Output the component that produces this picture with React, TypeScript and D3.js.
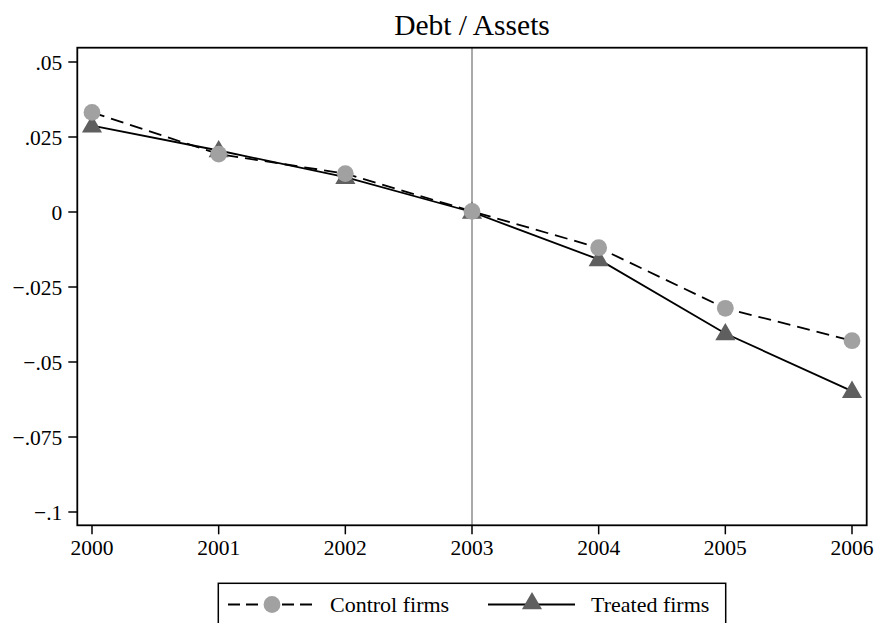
import React from "react";
import * as d3 from "d3";

const years = [2000, 2001, 2002, 2003, 2004, 2005, 2006];
const controlFirms = [0.0332, 0.0193, 0.0128, 0.0002, -0.0119, -0.0321, -0.0429];
const treatedFirms = [0.0288, 0.0205, 0.0116, 0.0, -0.0158, -0.0405, -0.0597];
const yTicks = [0.05, 0.025, 0, -0.025, -0.05, -0.075, -0.1];
const yTickLabels = [".05", ".025", "0", "\u2212.025", "\u2212.05", "\u2212.075", "\u2212.1"];
const eventYear = 2003;
const title = "Debt / Assets";
const seriesNames = ["Control firms", "Treated firms"];

const W = 878;
const H = 623;
const box = { left: 77.3, right: 866.7, top: 47.7, bottom: 525.3 };
const FONT = "'Liberation Serif', 'DejaVu Serif', serif";
const circleColor = "#a1a1a1";
const triColor = "#5f5f5f";

export default function App() {
  const x = d3
    .scaleLinear()
    .domain([2000, 2006])
    .range([92, 852]);
  const y = d3
    .scaleLinear()
    .domain([0, 0.05])
    .range([212, 62]);

  const line = d3
    .line<number>()
    .x((_, i) => x(years[i]))
    .y((d) => y(d));

  const tri = d3.symbol().type(d3.symbolTriangle).size(175)() as string;

  const legendY = 604.5;

  return (
    <svg
      width={W}
      height={H}
      style={{ position: "absolute", left: 0, top: 0, background: "#fff" }}
      fontFamily={FONT}
    >
      <rect x={0} y={0} width={W} height={H} fill="#fff" />
      <text x={472} y={35} fontSize={29.5} textAnchor="middle" fill="#000">
        {title}
      </text>

      {/* event line */}
      <line
        x1={x(eventYear)}
        x2={x(eventYear)}
        y1={box.top}
        y2={box.bottom}
        stroke="#a0a0a0"
        strokeWidth={1.8}
      />

      {/* lines */}
      <path d={line(controlFirms) || ""} fill="none" stroke="#000" strokeWidth={1.8} strokeDasharray="13 7" />
      <path d={line(treatedFirms) || ""} fill="none" stroke="#000" strokeWidth={1.8} />

      {/* markers */}
      {treatedFirms.map((v, i) => (
        <path key={"t" + i} d={tri} transform={`translate(${x(years[i])},${y(v) + 1})`} fill={triColor} />
      ))}
      {controlFirms.map((v, i) => (
        <circle key={"c" + i} cx={x(years[i])} cy={y(v)} r={8.4} fill={circleColor} />
      ))}

      {/* plot box */}
      <rect
        x={box.left}
        y={box.top}
        width={box.right - box.left}
        height={box.bottom - box.top}
        fill="none"
        stroke="#000"
        strokeWidth={1.8}
      />

      {/* y axis */}
      {yTicks.map((t, i) => (
        <g key={"y" + i}>
          <line x1={box.left - 9} x2={box.left} y1={y(t)} y2={y(t)} stroke="#000" strokeWidth={1.5} />
          <text x={box.left - 15} y={y(t)} dy="0.35em" fontSize={21.5} textAnchor="end" fill="#000">
            {yTickLabels[i]}
          </text>
        </g>
      ))}

      {/* x axis */}
      {years.map((yr) => (
        <g key={"x" + yr}>
          <line x1={x(yr)} x2={x(yr)} y1={box.bottom} y2={box.bottom + 9} stroke="#000" strokeWidth={1.5} />
          <text x={x(yr)} y={box.bottom + 30} fontSize={21.5} textAnchor="middle" fill="#000">
            {yr}
          </text>
        </g>
      ))}

      {/* legend */}
      <rect x={218.3} y={583.3} width={507.4} height={50} fill="#fff" stroke="#000" strokeWidth={1.5} />
      <line x1={228} x2={317} y1={legendY} y2={legendY} stroke="#000" strokeWidth={1.8} strokeDasharray="12 6" />
      <circle cx={272} cy={legendY} r={8.4} fill={circleColor} />
      <text x={330} y={legendY} dy="0.35em" fontSize={22} fill="#000">
        {seriesNames[0]}
      </text>
      <line x1={488} x2={575} y1={legendY} y2={legendY} stroke="#000" strokeWidth={1.8} />
      <path d={tri} transform={`translate(532,${legendY - 1})`} fill={triColor} />
      <text x={591} y={legendY} dy="0.35em" fontSize={22} fill="#000">
        {seriesNames[1]}
      </text>
    </svg>
  );
}
